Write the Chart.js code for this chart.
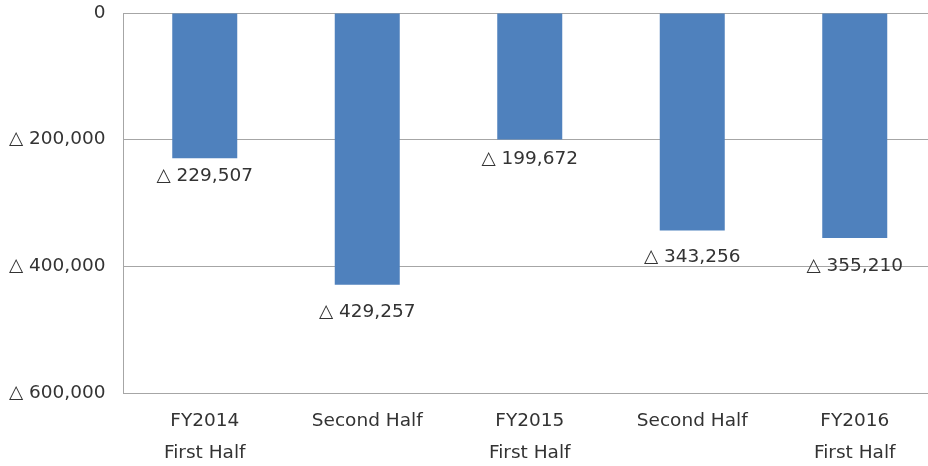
<!DOCTYPE html>
<html>
<head>
<meta charset="utf-8">
<script src="https://cdn.jsdelivr.net/npm/chart.js@4.4.1/dist/chart.umd.min.js"></script>
<style>
html,body{margin:0;padding:0;background:#fff;overflow:hidden;}
#wrap{width:928px;height:466px;position:relative;overflow:hidden;}
canvas{display:block;}
</style>
</head>
<body>
<div id="wrap"><canvas id="c" width="936" height="466"></canvas></div>
<script>
const categories = [["FY2014","First Half"],"Second Half",["FY2015","First Half"],"Second Half",["FY2016","First Half"]];
const values = [-229507, -429257, -199672, -343256, -355210];
const yTicks = [0, -200000, -400000, -600000];
const labelOffsets = [18, 27, 20, 27, 28];

const FONT = "'DejaVu Sans', Verdana, sans-serif";
const TEXT = '#333333';
const GRID = '#a6a6a6';

function fmt(v){
  if (v === 0) return '0';
  return '\u25B3 ' + Math.abs(v).toLocaleString('en-US');
}

const labelPlugin = {
  id: 'barLabels',
  afterDatasetsDraw(chart){
    const ctx = chart.ctx;
    const meta = chart.getDatasetMeta(0);
    ctx.save();
    ctx.font = '18.5px ' + FONT;
    ctx.fillStyle = TEXT;
    ctx.textAlign = 'center';
    ctx.textBaseline = 'middle';
    meta.data.forEach((bar, i) => {
      ctx.fillText(fmt(values[i]), bar.x, bar.y + labelOffsets[i]);
    });
    ctx.restore();
  }
};

new Chart(document.getElementById('c'), {
  type: 'bar',
  data: {
    labels: categories,
    datasets: [{
      data: values,
      backgroundColor: '#4f81bd',
      borderWidth: 0,
      barPercentage: 0.4,
      categoryPercentage: 1.0
    }]
  },
  options: {
    responsive: false,
    animation: false,
    devicePixelRatio: 1,
    layout: { padding: { top: 13, right: 0, left: 0, bottom: 0 } },
    plugins: { legend: { display: false }, tooltip: { enabled: false } },
    scales: {
      x: {
        grid: { display: false, drawTicks: false },
        border: { display: true, color: GRID, width: 1 },
        ticks: { color: TEXT, font: { family: FONT, size: 18.5, lineHeight: 1.73 }, padding: 12, maxRotation: 0, autoSkip: false },
        afterFit(s){ s.height = 73; s.paddingLeft = 0; s.paddingRight = 0; }
      },
      y: {
        min: -600000, max: 0,
        afterBuildTicks(s){ s.ticks = yTicks.map(v => ({ value: v })); },
        grid: { color: GRID, lineWidth: 1, drawTicks: false },
        border: { display: true, color: GRID, width: 1 },
        ticks: { color: TEXT, font: { family: FONT, size: 18.5 }, padding: 18, callback: v => fmt(v) },
        afterFit(s){ s.width = 123.5; s.paddingTop = 0; s.paddingBottom = 0; }
      }
    }
  },
  plugins: [labelPlugin]
});
</script>
</body>
</html>
